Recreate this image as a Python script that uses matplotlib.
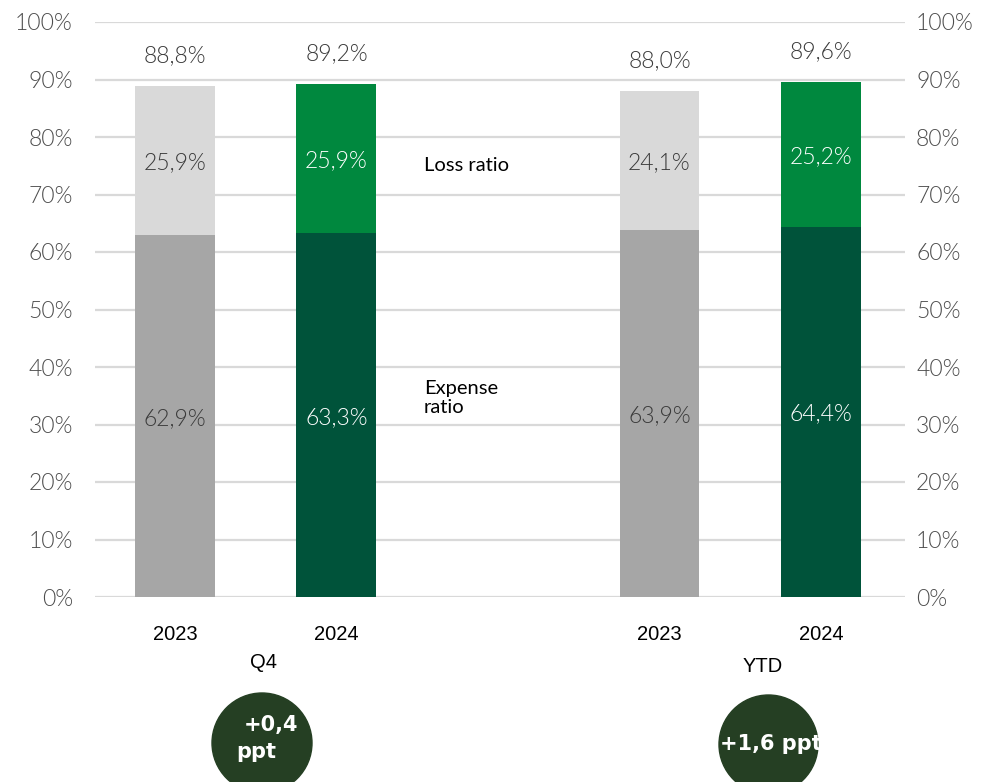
import numpy as np
import matplotlib.pyplot as plt
from matplotlib.patches import Circle
from matplotlib.ticker import FuncFormatter

# Combined ratio split into expense and loss ratio (%)
years = ['2023', '2024', '2023', '2024']
positions = [0, 1, 3, 4]
expense_ratio = [62.9, 63.3, 63.9, 64.4]
loss_ratio = [25.9, 25.9, 24.1, 25.2]
combined_ratio = [88.8, 89.2, 88.0, 89.6]
periods = ['Q4', 'YTD']
period_change = ['+0,4 ppt', '+1,6 ppt']

expense_colors = ['#a6a6a6', '#00533a', '#a6a6a6', '#00533a']
loss_colors = ['#d9d9d9', '#00883e', '#d9d9d9', '#00883e']
inner_text = ['#3a3a3a', 'white', '#3a3a3a', 'white']

W, H = 988, 782
fig = plt.figure(figsize=(W / 100, H / 100), dpi=100)
ax = fig.add_axes([95 / W, 1 - 597 / H, 810 / W, 575 / H])

ax.bar(positions, expense_ratio, width=0.495, color=expense_colors, zorder=3)
ax.bar(positions, loss_ratio, bottom=expense_ratio, width=0.495,
       color=loss_colors, zorder=3)

num_font = 'Lato'
num_weight = 300
fmt = lambda v: f'{v:.1f}%'.replace('.', ',')

for x, e, l, t, c in zip(positions, expense_ratio, loss_ratio,
                          combined_ratio, inner_text):
    for yv, v in [(e / 2, e), (e + l / 2, l)]:
        ax.annotate(fmt(v), (x, yv), xytext=(0, -1.5), textcoords='offset points',
                    ha='center', va='center', color=c, fontsize=16.5,
                    family=num_font, fontweight=num_weight, zorder=4)
    ax.annotate(fmt(t), (x, t), xytext=(0, 22), textcoords='offset points',
                ha='center', va='center', color='#3a3a3a',
                fontsize=16.5, family=num_font, fontweight=num_weight)

# series labels between the two groups
ax.text(1.54, 75.0, 'Loss ratio', ha='left', va='center',
        fontsize=14.5, family=num_font, color='black')
ax.text(1.54, 34.6, 'Expense\nratio', ha='left', va='center',
        fontsize=14.5, family=num_font, color='black', linespacing=1.2)

ax.set_xlim(-0.495, 4.52)
ax.set_ylim(0, 100)
ax.set_yticks(np.arange(0, 101, 10))
pct = FuncFormatter(lambda v, _: f'{v:.0f}%')
ax.yaxis.set_major_formatter(pct)
ax.grid(axis='y', color='#d9d9d9', linewidth=1.6, zorder=0)
ax.set_axisbelow(True)
for s in ax.spines.values():
    s.set_visible(False)
ax.tick_params(axis='y', length=0, pad=16, labelsize=16.5, labelcolor='#4d4d4d')
ax.set_xticks(positions)
ax.set_xticklabels(years, family='Liberation Sans', fontsize=14.5)
ax.tick_params(axis='x', length=0, pad=20, labelcolor='black')
for lab in ax.get_yticklabels():
    lab.set_family(num_font)
    lab.set_fontweight(num_weight)

ax2 = ax.twinx()
ax2.set_ylim(0, 100)
ax2.set_yticks(np.arange(0, 101, 10))
ax2.yaxis.set_major_formatter(pct)
ax2.tick_params(axis='y', length=0, pad=8, labelsize=16.5, labelcolor='#4d4d4d')
for lab in ax2.get_yticklabels():
    lab.set_family(num_font)
    lab.set_fontweight(num_weight)
for s in ax2.spines.values():
    s.set_visible(False)

# overlay in pixel units for period labels and change badges
ov = fig.add_axes([0, 0, 1, 1], zorder=5)
ov.set_xlim(0, W)
ov.set_ylim(H, 0)
ov.axis('off')

period_xy = [(263, 663), (763, 666)]
for (px, py), name in zip(period_xy, periods):
    ov.text(px, py, name, ha='center', va='center', fontsize=14.5,
            family='Liberation Sans', color='black')

badge_color = '#253f23'
badge_font = dict(color='white', fontsize=15, fontweight='bold',
                  family='DejaVu Sans')
c1 = Circle((262, 743), 50, color=badge_color)
ov.add_patch(c1)
val, unit = period_change[0].split(' ')
ov.text(271, 725, val, ha='center', va='center', **badge_font)
ov.text(256, 752, unit, ha='center', va='center', **badge_font)

c2 = Circle((768.5, 744.5), 49.5, color=badge_color)
ov.add_patch(c2)
t2 = ov.text(720, 744, period_change[1], ha='left', va='center', **badge_font)
t2.set_clip_path(c2)

fig.savefig('out.png', dpi=100)
